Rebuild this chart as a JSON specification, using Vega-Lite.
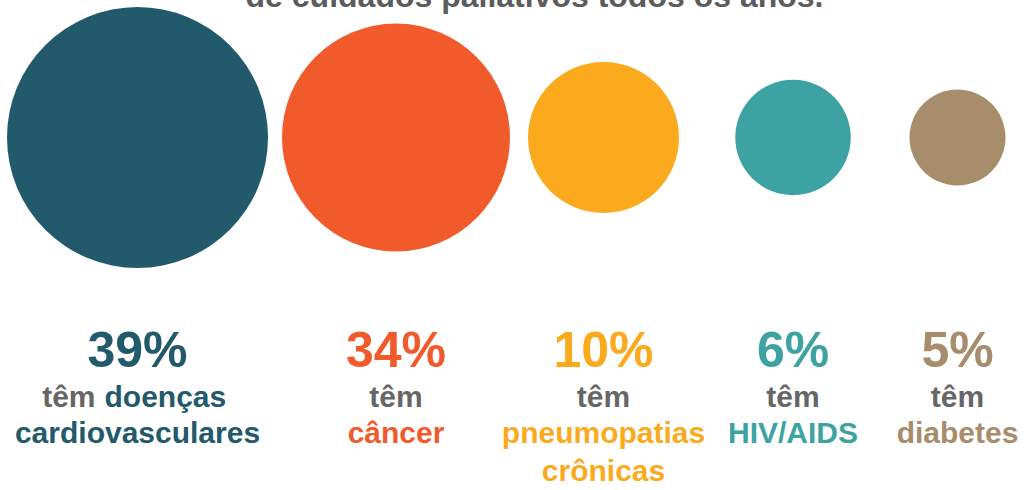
{
  "$schema": "https://vega.github.io/schema/vega-lite/v6.json",
  "width": 1025,
  "height": 490,
  "padding": 0,
  "autosize": {"type": "none"},
  "background": "#ffffff",
  "title": {
    "text": "de cuidados paliativos todos os anos.",
    "anchor": "middle",
    "frame": "group",
    "orient": "top",
    "offset": -39,
    "baseline": "alphabetic",
    "dx": 22,
    "font": "Liberation Sans",
    "fontSize": 32,
    "fontWeight": "bold",
    "color": "#5c5c5c"
  },
  "config": {
    "view": {"stroke": null},
    "text": {"font": "Liberation Sans", "fontWeight": "bold", "baseline": "alphabetic"}
  },
  "datasets": {
    "cats": [
      {"cause": "doenças cardiovasculares", "pct": 39, "label": "39%"},
      {"cause": "câncer", "pct": 34, "label": "34%"},
      {"cause": "pneumopatias crônicas", "pct": 10, "label": "10%"},
      {"cause": "HIV/AIDS", "pct": 6, "label": "6%"},
      {"cause": "diabetes", "pct": 5, "label": "5%"}
    ],
    "lines": [
      {"cause": "doenças cardiovasculares", "line": 2, "text": "têm", "kind": "verb"},
      {"cause": "doenças cardiovasculares", "line": 2, "text": "doenças", "kind": "cause"},
      {"cause": "doenças cardiovasculares", "line": 3, "text": "cardiovasculares", "kind": "cause"},
      {"cause": "câncer", "line": 2, "text": "têm", "kind": "verb"},
      {"cause": "câncer", "line": 3, "text": "câncer", "kind": "cause"},
      {"cause": "pneumopatias crônicas", "line": 2, "text": "têm", "kind": "verb"},
      {"cause": "pneumopatias crônicas", "line": 3, "text": "pneumopatias", "kind": "cause"},
      {"cause": "pneumopatias crônicas", "line": 4, "text": "crônicas", "kind": "cause"},
      {"cause": "HIV/AIDS", "line": 2, "text": "têm", "kind": "verb"},
      {"cause": "HIV/AIDS", "line": 3, "text": "HIV/AIDS", "kind": "cause"},
      {"cause": "diabetes", "line": 2, "text": "têm", "kind": "verb"},
      {"cause": "diabetes", "line": 3, "text": "diabetes", "kind": "cause"}
    ]
  },
  "layer": [
    {
      "data": {"name": "cats"},
      "mark": {"type": "point", "shape": "circle", "filled": true, "opacity": 1, "strokeWidth": 0},
      "encoding": {
        "x": {"field": "pct", "type": "quantitative", "axis": null,
              "scale": {"domain": [5, 6, 10, 34, 39], "range": [957.5, 793, 603.5, 396, 137.5], "nice": false, "zero": false}},
        "y": {"datum": 0, "type": "quantitative", "axis": null,
              "scale": {"domain": [0, 1, 2, 3, 4], "range": [137.5, 367, 407, 443, 481], "nice": false, "zero": false}},
        "size": {"field": "pct", "type": "quantitative", "legend": null,
                 "scale": {"domain": [5, 6, 10, 34, 39], "range": [9216, 13340, 22801, 51984, 68121], "zero": false, "nice": false}},
        "color": {"field": "cause", "type": "nominal", "legend": null,
                  "scale": {"domain": ["doenças cardiovasculares", "câncer", "pneumopatias crônicas", "HIV/AIDS", "diabetes"],
                            "range": ["#225A6C", "#F15B2C", "#FBAA1E", "#3DA3A2", "#A78D6B"]}}
      }
    },
    {
      "data": {"name": "cats"},
      "mark": {"type": "text", "fontSize": 50, "align": "center"},
      "encoding": {
        "x": {"field": "pct", "type": "quantitative"},
        "y": {"datum": 1, "type": "quantitative"},
        "text": {"field": "label"},
        "color": {"field": "cause", "type": "nominal", "legend": null}
      }
    },
    {
      "data": {"name": "lines"},
      "transform": [
        {"lookup": "cause", "from": {"data": {"name": "cats"}, "key": "cause", "fields": ["pct"]}},
        {"filter": "datum.kind === 'verb' && datum.cause !== 'doenças cardiovasculares'"}
      ],
      "mark": {"type": "text", "fontSize": 30, "align": "center", "color": "#666666"},
      "encoding": {
        "x": {"field": "pct", "type": "quantitative"},
        "y": {"field": "line", "type": "quantitative"},
        "text": {"field": "text"}
      }
    },
    {
      "data": {"name": "lines"},
      "transform": [
        {"lookup": "cause", "from": {"data": {"name": "cats"}, "key": "cause", "fields": ["pct"]}},
        {"filter": "datum.kind === 'verb' && datum.cause === 'doenças cardiovasculares'"}
      ],
      "mark": {"type": "text", "fontSize": 30, "align": "right", "dx": -42, "color": "#666666"},
      "encoding": {
        "x": {"field": "pct", "type": "quantitative"},
        "y": {"field": "line", "type": "quantitative"},
        "text": {"field": "text"}
      }
    },
    {
      "data": {"name": "lines"},
      "transform": [
        {"lookup": "cause", "from": {"data": {"name": "cats"}, "key": "cause", "fields": ["pct"]}},
        {"filter": "datum.kind === 'cause' && !(datum.cause === 'doenças cardiovasculares' && datum.line === 2)"}
      ],
      "mark": {"type": "text", "fontSize": 30, "align": "center"},
      "encoding": {
        "x": {"field": "pct", "type": "quantitative"},
        "y": {"field": "line", "type": "quantitative"},
        "text": {"field": "text"},
        "color": {"field": "cause", "type": "nominal", "legend": null}
      }
    },
    {
      "data": {"name": "lines"},
      "transform": [
        {"lookup": "cause", "from": {"data": {"name": "cats"}, "key": "cause", "fields": ["pct"]}},
        {"filter": "datum.kind === 'cause' && datum.cause === 'doenças cardiovasculares' && datum.line === 2"}
      ],
      "mark": {"type": "text", "fontSize": 30, "align": "left", "dx": -33},
      "encoding": {
        "x": {"field": "pct", "type": "quantitative"},
        "y": {"field": "line", "type": "quantitative"},
        "text": {"field": "text"},
        "color": {"field": "cause", "type": "nominal", "legend": null}
      }
    }
  ]
}
